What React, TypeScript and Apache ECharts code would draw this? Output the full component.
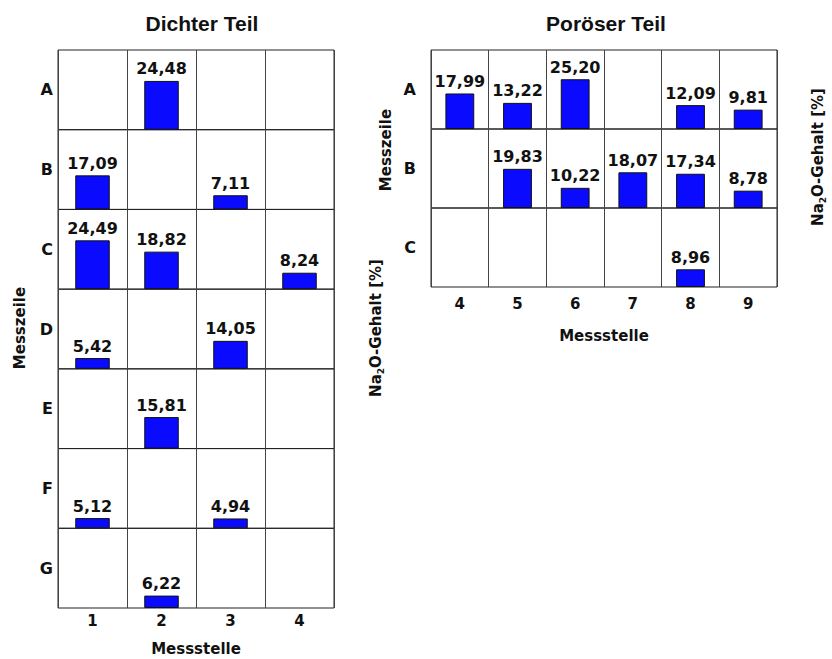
import React, { useEffect, useRef } from "react";
import * as echarts from "echarts";

// Dichter Teil
const dichtColumns = ["1", "2", "3", "4"];
const dichtRows = ["A", "B", "C", "D", "E", "F", "G"];
const dichtA = [null, 24.48, null, null];
const dichtB = [17.09, null, 7.11, null];
const dichtC = [24.49, 18.82, null, 8.24];
const dichtD = [5.42, null, 14.05, null];
const dichtE = [null, 15.81, null, null];
const dichtF = [5.12, null, 4.94, null];
const dichtG = [null, 6.22, null, null];
const dichtValues = [dichtA, dichtB, dichtC, dichtD, dichtE, dichtF, dichtG];

// Poröser Teil
const porColumns = ["4", "5", "6", "7", "8", "9"];
const porRows = ["A", "B", "C"];
const porA = [17.99, 13.22, 25.2, null, 12.09, 9.81];
const porB = [null, 19.83, 10.22, 18.07, 17.34, 8.78];
const porC = [null, null, null, null, 8.96, null];
const porValues = [porA, porB, porC];

const yMax = 40;

const FONT = "'DejaVu Sans', sans-serif";
const TITLE_FONT = "'Liberation Sans', Arial, sans-serif";

function fmt(v: any) {
  if (v == null || v === "-") return "";
  return Number(v).toFixed(2).replace(".", ",");
}

export default function App() {
  const ref = useRef<HTMLDivElement>(null);
  useEffect(() => {
    if (!ref.current) return;
    const chart = echarts.init(ref.current, null, { renderer: "svg" });

    const grids: any[] = [];
    const xAxes: any[] = [];
    const yAxes: any[] = [];
    const series: any[] = [];

    const addPanel = (
      rows: string[],
      cols: string[],
      values: (number | null)[][],
      left: number,
      width: number,
      top: number,
      rowH: number,
      rowNameGap: number,
      tickMargin: number,
      xNameGap: number
    ) => {
      rows.forEach((r, i) => {
        const idx = grids.length;
        const last = i === rows.length - 1;
        grids.push({
          left,
          width,
          top: top + i * rowH,
          height: rowH,
          show: true,
          borderColor: "#222",
          borderWidth: 1,
          backgroundColor: "transparent",
        });
        xAxes.push({
          type: "category",
          gridIndex: idx,
          data: cols,
          axisLine: { show: false },
          axisTick: { show: false },
          axisLabel: {
            show: last,
            margin: tickMargin,
            fontFamily: FONT,
            fontWeight: "bold",
            fontSize: 15,
            color: "#111",
          },
          splitLine: { show: true, lineStyle: { color: "#444", width: 1 } },
          name: last ? "Messstelle" : "",
          nameLocation: "middle",
          nameGap: xNameGap,
          nameTextStyle: {
            fontFamily: FONT,
            fontWeight: "bold",
            fontSize: 15,
            color: "#111",
          },
        });
        yAxes.push({
          type: "value",
          gridIndex: idx,
          min: 0,
          max: yMax,
          axisLine: { show: false },
          axisTick: { show: false },
          axisLabel: { show: false },
          splitLine: { show: false },
          name: r,
          nameLocation: "middle",
          nameRotate: 0,
          nameGap: rowNameGap,
          nameTextStyle: {
            fontFamily: FONT,
            fontWeight: "bold",
            fontSize: 16,
            color: "#111",
          },
        });
        series.push({
          type: "bar",
          xAxisIndex: idx,
          yAxisIndex: idx,
          data: values[i].map((v) => (v == null ? "-" : v)),
          barWidth: "50%",
          itemStyle: { color: "#0a0aff", borderColor: "#111", borderWidth: 1 },
          label: {
            show: true,
            position: "top",
            distance: 4,
            formatter: (p: any) => fmt(p.value),
            fontFamily: FONT,
            fontWeight: "bold",
            fontSize: 16,
            color: "#111",
          },
        });
      });
    };

    addPanel(dichtRows, dichtColumns, dichtValues, 58, 276, 50, 558 / 7, 5, 5, 33);
    addPanel(porRows, porColumns, porValues, 431, 346, 50, 79, 15, 9, 41);

    const richLabel = (x: number, y: number) => ({
      type: "text",
      x,
      y,
      rotation: Math.PI / 2,
      style: {
        text: "{n|Na}{s|2}{n|O-Gehalt [%]}",
        align: "center",
        verticalAlign: "middle",
        rich: {
          n: { fontFamily: FONT, fontWeight: "bold", fontSize: 15, fill: "#111", lineHeight: 18 },
          s: { fontFamily: FONT, fontWeight: "bold", fontSize: 9, fill: "#111", lineHeight: 18, verticalAlign: "bottom" },
        },
      },
    });
    const vertLabel = (text: string, x: number, y: number) => ({
      type: "text",
      x,
      y,
      rotation: Math.PI / 2,
      style: {
        text,
        align: "center",
        verticalAlign: "middle",
        fontFamily: FONT,
        fontWeight: "bold",
        fontSize: 15,
        fill: "#111",
      },
    });

    chart.setOption({
      animation: false,
      backgroundColor: "#fff",
      title: [
        {
          text: "Dichter Teil",
          left: 197,
          top: 8,
          textAlign: "center",
          textStyle: { fontFamily: TITLE_FONT, fontWeight: "bold", fontSize: 21, color: "#111" },
        },
        {
          text: "Poröser Teil",
          left: 601,
          top: 8,
          textAlign: "center",
          textStyle: { fontFamily: TITLE_FONT, fontWeight: "bold", fontSize: 21, color: "#111" },
        },
      ],
      grid: grids,
      xAxis: xAxes,
      yAxis: yAxes,
      series,
      graphic: [
        vertLabel("Messzeile", 20, 328),
        richLabel(376, 328),
        vertLabel("Messzeile", 386, 150),
        richLabel(818, 157),
      ],
    });

    return () => chart.dispose();
  }, []);

  return (
    <div
      ref={ref}
      style={{ position: "fixed", left: 0, top: 0, width: 832, height: 659 }}
    />
  );
}
